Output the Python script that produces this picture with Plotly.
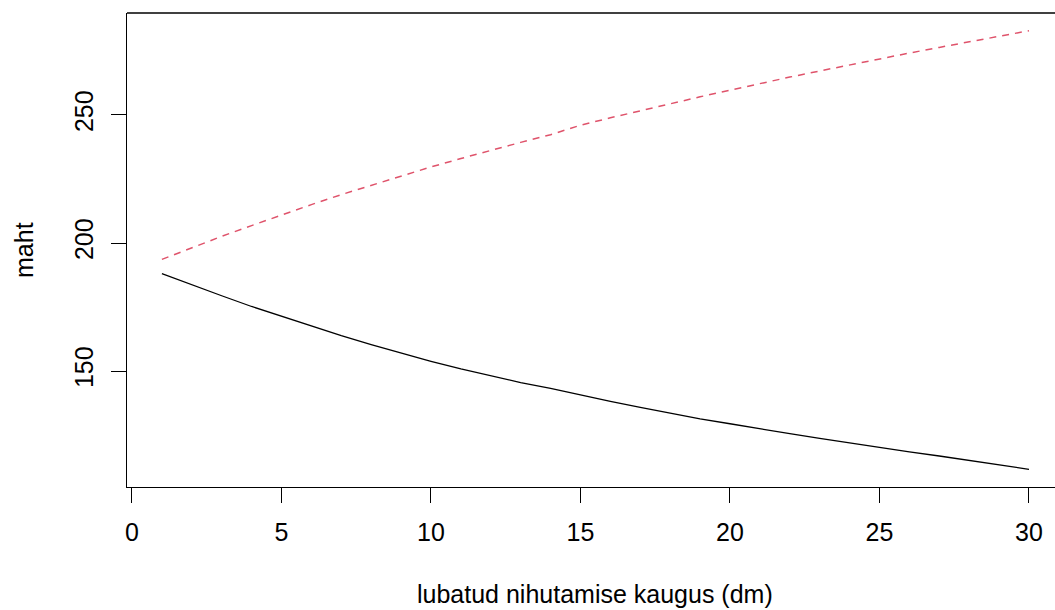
import plotly.graph_objects as go

# allowed shift distance (dm)
kaugus = list(range(1, 31))

# volume under the two scenarios
maht_kahanev = [188.0, 183.6, 179.4, 175.2, 171.3, 167.5, 163.8, 160.3, 157.0, 153.8,
                150.8, 148.0, 145.5, 143.2, 140.6, 138.1, 135.8, 133.5, 131.3, 129.4,
                127.4, 125.5, 123.7, 121.9, 120.2, 118.4, 116.8, 115.1, 113.4, 111.6]
maht_kasvav = [193.6, 198.2, 202.6, 206.8, 211.0, 215.0, 218.9, 222.6, 226.2, 229.7,
               233.0, 236.2, 239.3, 242.3, 246.0, 248.9, 251.7, 254.4, 257.1, 259.7,
               262.3, 264.8, 267.2, 269.6, 271.9, 274.2, 276.4, 278.6, 280.8, 282.9]

x_ticks = [0, 5, 10, 15, 20, 25, 30]
y_ticks = [150, 200, 250]

FONT = "Liberation Sans, Arial, sans-serif"
FS = 25

fig = go.Figure()
fig.add_trace(go.Scatter(x=kaugus, y=maht_kahanev, mode="lines",
                         line=dict(color="black", width=1.3)))
fig.add_trace(go.Scatter(x=kaugus, y=maht_kasvav, mode="lines",
                         line=dict(color="#DF536B", width=1.5, dash="7px,6px")))

W, H = 1055, 610
L, R, T, B = 127, 0, 13, 123

fig.update_layout(
    width=W, height=H,
    margin=dict(l=L, r=R, t=T, b=B),
    paper_bgcolor="white", plot_bgcolor="white",
    showlegend=False,
    font=dict(family=FONT, size=FS, color="black"),
    xaxis=dict(range=[-0.167, 30.87], tickvals=x_ticks, ticktext=[str(v) for v in x_ticks],
               showgrid=False, zeroline=False, showline=True, linecolor="black", linewidth=1.3,
               ticks="outside", ticklen=15, tickwidth=1.3, tickcolor="black",
               ticklabelstandoff=8, tickfont=dict(family=FONT, size=FS, color="black")),
    yaxis=dict(range=[104.69, 289.84], tickvals=y_ticks, ticktext=[str(v) for v in y_ticks],
               showgrid=False, zeroline=False, showline=True, linecolor="black", linewidth=1.3,
               ticks="outside", ticklen=15, tickwidth=1.3, tickcolor="black", tickangle=-90,
               ticklabelstandoff=8, tickfont=dict(family=FONT, size=FS, color="black")),
    shapes=[dict(type="line", xref="paper", yref="paper", x0=0, x1=1, y0=1, y1=1,
                 line=dict(color="black", width=1.3))],
    annotations=[
        dict(text="lubatud nihutamise kaugus (dm)", xref="paper", yref="paper",
             x=(595 - L) / (W - L - R), y=(H - B - 594) / (H - T - B),
             xanchor="center", yanchor="middle", showarrow=False,
             font=dict(family=FONT, size=FS, color="black")),
        dict(text="maht", xref="paper", yref="paper",
             x=(24 - L) / (W - L - R), y=0.5, textangle=-90,
             xanchor="center", yanchor="middle", showarrow=False,
             font=dict(family=FONT, size=FS, color="black")),
    ],
)

fig.write_html("out.html")
